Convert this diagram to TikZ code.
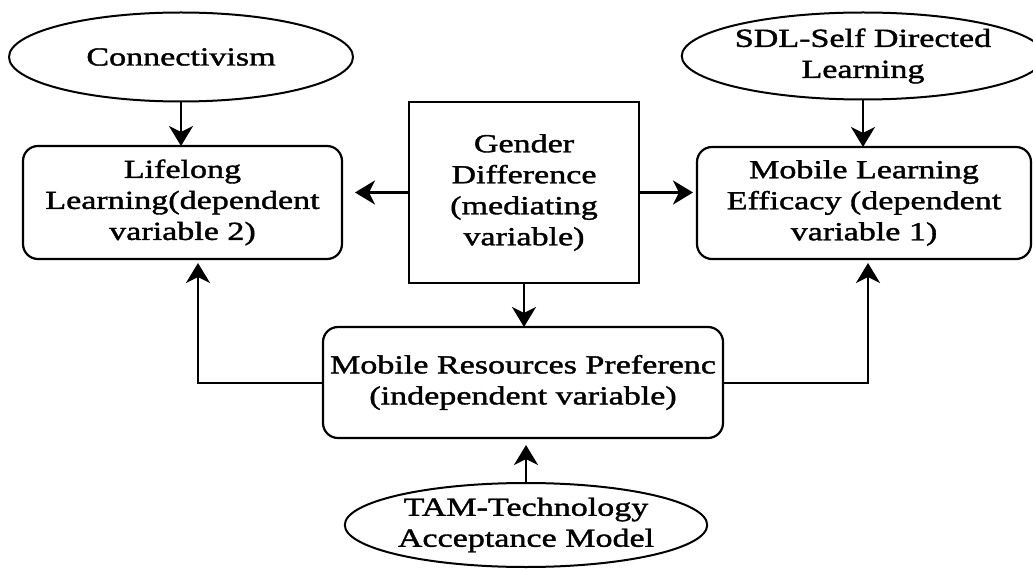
\documentclass[tikz,border=0pt]{standalone}
\usepackage{fontspec}
\setmainfont{Liberation Serif}[FakeStretch=1.31,FakeBold=1.5]
\usetikzlibrary{shapes.geometric,arrows.meta}
\begin{document}
\begin{tikzpicture}[x=1pt,y=-1pt,
  every node/.style={font=\fontsize{26}{31}\selectfont, align=center, inner sep=0pt, outer sep=0pt},
  oval/.style={draw, ellipse, line width=2pt},
  rbox/.style={draw, rectangle, rounded corners=15pt, line width=2.2pt},
  sbox/.style={draw, rectangle, line width=2.2pt},
  conn/.style={line width=2.8pt, -{Stealth[length=20pt,width=24pt,inset=6pt]}}]
\useasboundingbox (0,0) rectangle (1033,569);
\node[oval, minimum width=344pt, minimum height=89pt] (connect) at (181,57) {Connectivism};
\node[oval, minimum width=338pt, minimum height=87pt] (sdl) at (863,56) {SDL-Self Directed\\Learning};
\node[rbox, minimum width=319pt, minimum height=113pt] (life) at (182.5,202.5) {Lifelong\\Learning(dependent\\variable 2)};
\node[sbox, minimum width=230pt, minimum height=181pt] (gender) at (524,192.5) {Gender\\Difference\\(mediating\\variable)};
\node[rbox, minimum width=334pt, minimum height=112pt] (mle) at (864,203) {Mobile Learning\\Efficacy (dependent\\variable 1)};
\node[rbox, minimum width=400pt, minimum height=111pt] (mrp) at (523,382.5) {Mobile Resources Preferenc\\(independent variable)};
\node[oval, minimum width=348pt, minimum height=84pt] (tam) at (526,525) {TAM-Technology\\Acceptance Model};

\coordinate (lc) at (198,383);
\coordinate (rc) at (868,383);

\draw[conn] (connect.south) -- (connect.south |- life.north);
\draw[conn] (sdl.south) -- (sdl.south |- mle.north);
\draw[conn, shorten >=13pt] (gender.west) -- (gender.west -| life.east);
\draw[conn, shorten >=4pt] (gender.east) -- (gender.east -| mle.west);
\draw[conn] (gender.south) -- (gender.south |- mrp.north);
\draw[conn, shorten >=4pt] (mrp.west |- lc) -- (lc) -- (lc |- life.south);
\draw[conn, shorten >=4pt] (mrp.east |- rc) -- (rc) -- (rc |- mle.south);
\draw[conn, shorten >=7pt] (tam.north) -- (tam.north |- mrp.south);
\end{tikzpicture}
\end{document}
